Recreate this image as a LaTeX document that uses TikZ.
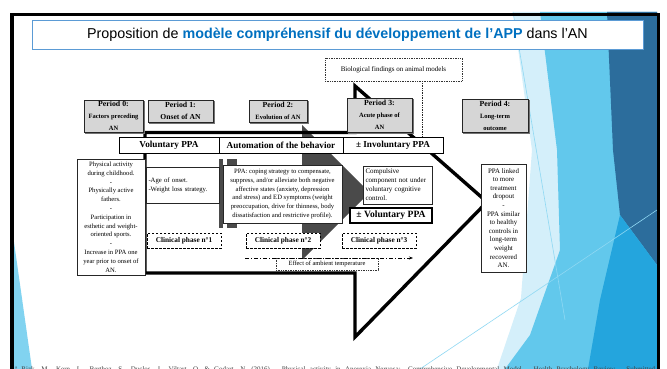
\documentclass[tikz,border=0pt]{standalone}
\usepackage{fontspec}
\setmainfont{Liberation Serif}
\newfontfamily\titlefont{Liberation Sans}
\usetikzlibrary{arrows.meta}
\definecolor{titleblue}{HTML}{0070C0}
\definecolor{frameblue}{HTML}{5B9BD5}
\definecolor{faceLight}{HTML}{D4EFFA}
\definecolor{faceSky}{HTML}{62C8EC}
\definecolor{faceDark}{HTML}{2C6D9C}
\definecolor{faceMid}{HTML}{24A5DD}
\definecolor{faceLine}{HTML}{8FD8F3}
\definecolor{arrowgray}{HTML}{4A4A4A}
\definecolor{periodgray}{HTML}{D6D6D6}
\newcommand\pbig{\fontsize{7.8}{8.6}\selectfont\bfseries}
\newcommand\psmall{\fontsize{6.5}{8}\selectfont\bfseries}
\tikzset{
  period/.style={draw=black!85, fill=periodgray, line width=0.9pt, align=center, inner sep=0pt},
  pshadow/.style={fill=black!55},
  rowbox/.style={draw=black, fill=white, line width=0.8pt, inner sep=0pt, align=center,
    font=\bfseries\fontsize{9.2}{10}\selectfont},
  txtbox/.style={draw=black!85, fill=white, line width=0.8pt, inner sep=1.5pt,
    font=\fontsize{6.6}{8.8}\selectfont},
  clinbox/.style={draw=black, fill=white, dash pattern=on 2.5pt off 1.5pt, line width=0.9pt,
    inner sep=0pt, font=\bfseries\fontsize{7.3}{8}\selectfont},
  dotbox/.style={draw=black!80, fill=white, densely dotted, line width=0.7pt, inner sep=0pt},
  bigarrow/.style={draw=black, line width=3.4pt, miter limit=20},
}
\begin{document}
\begin{tikzpicture}[x=1pt,y=-1pt]
\useasboundingbox (0,0) rectangle (667,369);
\fill[white] (0,0) rectangle (667,369);
% background facets
\fill[faceLight] (513,12) -- (657,12) -- (657,369) -- (497,369) -- (521,298) -- (532,150) -- cycle;
\fill[faceSky] (540,12) -- (657,12) -- (657,369) -- (505,369) -- (530,335) -- (560,250) -- (557,150) -- cycle;
\fill[faceDark] (607,12) -- (657,12) -- (657,265) -- (620,215) -- (613,150) -- cycle;
\fill[faceMid] (620,215) -- (657,265) -- (657,369) -- (588,369) -- (600,300) -- cycle;
\draw[faceLine, line width=0.6pt] (420,369) -- (657,210);
\draw[faceLine, line width=0.6pt] (513,12) -- (565,320);
\fill[faceSky!80] (13,235) -- (32,369) -- (13,369) -- cycle;
% slide frame
\draw[black, line width=3.4pt] (12,395) -- (12,14.5) -- (658.5,14.5) -- (658.5,395);
% title
\node[draw=frameblue, fill=white, line width=0.8pt, minimum width=611, minimum height=28.5, inner sep=0pt,
  font=\titlefont\fontsize{14.3}{16}\selectfont] (title) at (337.5,35)
  {Proposition de \textcolor{titleblue}{\bfseries modèle compréhensif du développement de l’APP} dans l’AN};
% biological findings
\node[dotbox, minimum width=137, minimum height=23, font=\fontsize{7}{8}\selectfont] (bio) at (393.5,69.5) {Biological findings on animal models};
% gray striped arrow
\fill[arrowgray] (219,159) rectangle (223,228);
\fill[arrowgray] (227,159) rectangle (237,228);
\fill[arrowgray] (238,165) -- (302,165) -- (302,125) -- (369.5,192.5) -- (302,260) -- (302,223) -- (238,223) -- cycle;
% big black arrow
\draw[bigarrow] (145,132.5) -- (355,132.5) -- (355,86) -- (487,202) -- (355,337) -- (355,273) -- (145,273) -- cycle;
% period boxes (shadows first)
\fill[pshadow] (85,101) rectangle (144.5,133.5);
\fill[pshadow] (149,101) rectangle (214.5,123.5);
\fill[pshadow] (250,101) rectangle (308.5,123.5);
\fill[pshadow] (348,99) rectangle (413.5,133.5);
\fill[pshadow] (463,100) rectangle (529.5,133.5);
\node[period, minimum width=59, minimum height=32] (p0) at (113.5,116)
  {\pbig Period 0:\\\psmall Factors preceding\\\psmall AN};
\node[period, minimum width=65, minimum height=22] (p1) at (180.5,111)
  {\pbig Period 1:\\\fontsize{7.6}{8.6}\selectfont\bfseries Onset of AN};
\node[period, minimum width=58, minimum height=22] (p2) at (278,111)
  {\pbig Period 2:\\\psmall Evolution of AN};
\node[period, minimum width=65, minimum height=34] (p3) at (379.5,115)
  {\pbig Period 3:\\\psmall Acute phase of\\\psmall AN};
\node[period, minimum width=66, minimum height=33] (p4) at (495,115.5)
  {\pbig Period 4:\\\psmall Long-term\\\psmall outcome};
% dotted link from biological findings
\draw[black!85, densely dotted, line width=0.7pt] ([xshift=-40pt]bio.south east) -- ([xshift=-40pt]bio.south east |- 0,138);
% header row
\node[rowbox, minimum width=100, minimum height=16] (vol) at (169,145.5) {Voluntary PPA};
\node[rowbox, minimum width=124, minimum height=16] (auto) at (281,145.5) {Automation of the behavior};
\node[rowbox, minimum width=100, minimum height=16] (inv) at (393,145.5) {± Involuntary PPA};
% text boxes
\node[txtbox, minimum width=68, minimum height=116, align=center] (left) at (111,217)
  {Physical activity\\during childhood.\\-\\Physically active\\fathers.\\-\\Participation in\\esthetic and weight-\\oriented sports.\\-\\Increase in PPA one\\year prior to onset of\\AN.};
\node[txtbox, minimum width=73, minimum height=36, text width=68, align=left, font=\fontsize{6.7}{8.8}\selectfont] (age) at (182.5,185)
  {-Age of onset.\\-Weight loss strategy.};
\node[txtbox, minimum width=119, minimum height=58, align=center] (ppa) at (282.5,194)
  {PPA: coping strategy to compensate,\\suppress, and/or alleviate both negative\\affective states (anxiety, depression\\and stress) and ED symptoms (weight\\preoccupation, drive for thinness, body\\dissatisfaction and restrictive profile).};
\node[txtbox, minimum width=69, minimum height=38, text width=64, align=left, font=\fontsize{7}{9}\selectfont] (comp) at (397.5,185)
  {Compulsive\\component not under\\voluntary cognitive\\control.};
\node[rowbox, line width=1.2pt, minimum width=82, minimum height=15, font=\bfseries\fontsize{9.6}{10}\selectfont] (pvol) at (391,215.5) {± Voluntary PPA};
\node[txtbox, minimum width=45, minimum height=108, align=center, inner sep=0pt, font=\fontsize{6.9}{8.6}\selectfont] (out) at (503.5,218)
  {PPA linked\\to more\\treatment\\dropout\\-\\PPA similar\\to healthy\\controls in\\long-term\\weight\\recovered\\AN.};
% clinical phases
\node[clinbox, minimum width=74, minimum height=15] (c1) at (184,240.5) {Clinical phase n°1};
\node[clinbox, minimum width=74, minimum height=15] (c2) at (283,240.5) {Clinical phase n°2};
\node[clinbox, minimum width=74, minimum height=15] (c3) at (379,240.5) {Clinical phase n°3};
% ambient temperature
\coordinate (ts) at (245,258);
\coordinate (te) at (413,258);
\node[dotbox, minimum width=102, minimum height=12, font=\fontsize{6.4}{7}\selectfont] (amb) at (327,264) {Effect of ambient temperature};
\draw[black, line width=0.7pt, dash pattern=on 4pt off 2pt on 1pt off 2pt, -{Stealth[length=4pt,width=3pt]}] (ts) -- (te);
% citation
\node[anchor=base west, inner sep=0pt, text=black!75, font=\fontsize{7}{8}\selectfont] (cite) at (15,371.5)
  {\makebox[640pt][s]{ª Rizk, M., Kern, L., Berthoz, S., Duclos, J., Viltart, O. \& Godart, N. (2016). Physical activity in Anorexia Nervosa: Comprehensive Developmental Model. Health Psychology Review. Submitted}};
\end{tikzpicture}
\end{document}
